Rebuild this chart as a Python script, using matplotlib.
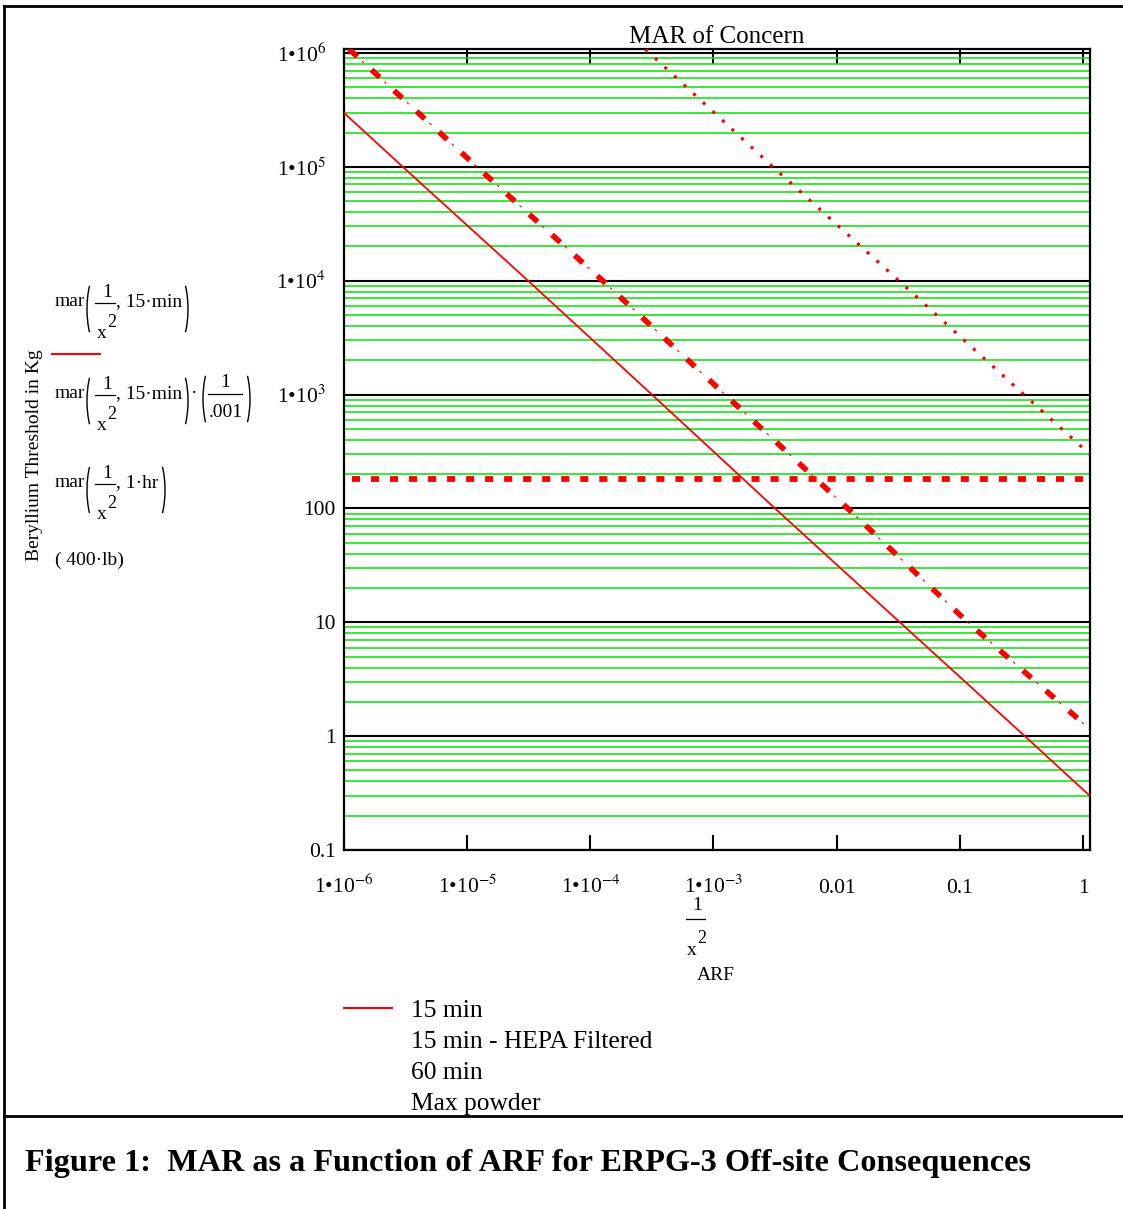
import matplotlib
matplotlib.use('Agg')
import matplotlib.pyplot as plt
from matplotlib.lines import Line2D
from matplotlib.patches import Arc
from matplotlib.ticker import FixedLocator, NullLocator, LogLocator

# values
arf_15 = [1e-6, 3.0e-6, 3.12e-5, 3.16e-4, 3.16e-3, 3.26e-2, 0.337, 1.14]
mar_15 = [2.98e5, 1e5, 1e4, 1e3, 100, 10, 1, 0.298]

arf_hepa = [2.8e-4, 3.03e-3, 0.032, 0.331, 1.14]
mar_hepa = [1.08e6, 1e5, 1e4, 1e3, 298]

arf_60 = [1.1e-6, 1.2e-5, 1.26e-4, 1.24e-3, 1.23e-2, 0.116, 1.14]
mar_60 = [1.08e6, 1e5, 1e4, 1e3, 100, 10, 1.15]

arf_powder = [1e-6, 1.14]
mar_powder = [181.4, 181.4]

x_ticks = [1e-6, 1e-5, 1e-4, 1e-3, 0.01, 0.1, 1]
x_labels = ['1\u202210$^{-6}$', '1\u202210$^{-5}$', '1\u202210$^{-4}$',
            '1\u202210$^{-3}$', '0.01', '0.1', '1']
y_ticks = [0.1, 1, 10, 100, 1e3, 1e4, 1e5, 1e6]
y_labels = ['0.1', '1', '10', '100', '1\u202210$^{3}$', '1\u202210$^{4}$',
            '1\u202210$^{5}$', '1\u202210$^{6}$']

legend_names = ['15 min', '15 min - HEPA Filtered', '60 min', 'Max powder']

plt.rcParams['font.family'] = ['Liberation Serif', 'DejaVu Serif']
plt.rcParams['mathtext.fontset'] = 'stix'
plt.rcParams['lines.scale_dashes'] = False

W, H = 1123, 1209
fig = plt.figure(figsize=(W / 100, H / 100), dpi=100)


def fx(px):
    return px / W


def fy(py):
    return 1 - py / H


def t(x, y, s, size=14, **kw):
    fig.text(fx(x), fy(y), s, ha='left', va='baseline', fontsize=size, **kw)


def hline(x0, x1, y, color='black', lw=0.9):
    fig.add_artist(Line2D([fx(x0), fx(x1)], [fy(y), fy(y)], color=color, lw=lw))


def paren(xl, y0, y1, side):
    # tall thin bracket like the Mathcad ones, drawn as an elliptic arc (pixel units)
    a = 11
    b = (y1 - y0) / 2 / 0.94
    cy = H - (y0 + y1) / 2
    if side == 'left':
        cx, th = xl + a, (110, 250)
    else:
        cx, th = xl + 7 - a, (-70, 70)
    fig.add_artist(Arc((cx / 100, cy / 100), 2 * a / 100, 2 * b / 100,
                       theta1=th[0], theta2=th[1], color='black', lw=1.0,
                       transform=fig.dpi_scale_trans))


def mar_block(B, tail, close_x):
    t(55, B, 'mar')
    paren(87, B - 31, B + 37, 'left')
    t(102, B - 9, '1')
    hline(95, 115, B - 3)
    t(97, B + 32, 'x')
    t(107, B + 21, '2', size=13)
    t(116, B, tail)
    paren(close_x, B - 31, B + 37, 'right')


ax = fig.add_axes([fx(344), fy(850), (1090 - 344) / W, (850 - 49) / H])
ax.set_xscale('log')
ax.set_yscale('log')
ax.set_xlim(1e-6, 1.14)
ax.set_ylim(0.1, 1.084e6)

red = '#ff0000'
ax.plot(arf_15, mar_15, color=red, lw=1.3, zorder=5)
ax.plot(arf_hepa, mar_hepa, color=red, lw=2.3, linestyle=(0, (2.2, 7.2)), zorder=5)
ax.plot(arf_60, mar_60, color=red, lw=4.0, linestyle=(0, (8, 14)), zorder=5)
ax.plot(arf_60, mar_60, color=red, lw=0.8, linestyle=(9.5, (2, 20)), zorder=5)
ax.plot(arf_powder, mar_powder, color=red, lw=4.2, linestyle=(8, (5.8, 7.9)), zorder=5)

# axes styling
ax.xaxis.set_major_locator(FixedLocator(x_ticks))
ax.xaxis.set_minor_locator(NullLocator())
ax.set_xticklabels(x_labels)
ax.yaxis.set_major_locator(FixedLocator(y_ticks))
ax.yaxis.set_minor_locator(LogLocator(base=10, subs=range(2, 10), numticks=30))
ax.set_yticklabels(y_labels)
ax.yaxis.set_minor_formatter(plt.NullFormatter())

ax.tick_params(axis='x', which='major', direction='in', length=11, width=1.5,
               top=True, labelsize=15.5, pad=31)
ax.tick_params(axis='y', which='both', length=0, labelsize=15.5, pad=6)
for lbl in ax.get_xticklabels():
    lbl.set_va('baseline')
for lbl in ax.get_yticklabels():
    lbl.set_va('center_baseline')
    if '$' in lbl.get_text():
        # Mathcad puts the power-of-ten labels a little further left
        lbl.set_x(-10 / 746)

ax.set_axisbelow(True)
ax.grid(which='major', axis='y', color='black', lw=1.5)
ax.grid(which='minor', axis='y', color='#00e600', lw=1.1)
ax.grid(which='both', axis='x', visible=False)
for sp in ax.spines.values():
    sp.set_linewidth(1.6)

ax.set_title('MAR of Concern', fontsize=18, pad=4)

# y axis label block
fig.text(fx(35), fy(455), 'Beryllium Threshold in Kg', rotation=90,
         ha='center', va='center', fontsize=14)
mar_block(306, ', 15\u00b7min', 181)
hline(52, 100, 354, color=red, lw=1.5)
mar_block(398, ', 15\u00b7min', 181)
t(191, 398, '\u00b7')
paren(203, 398 - 33, 398 + 35, 'left')
t(220, 387, '1')
hline(208, 242, 394)
t(209, 417, '.001')
paren(243, 398 - 33, 398 + 35, 'right')
mar_block(487, ', 1\u00b7hr', 158)
t(55, 565, '( 400\u00b7lb)')

# x axis label block
t(692, 910, '1')
hline(686, 705, 919)
t(687, 955, 'x')
t(697, 943, '2', size=13)
t(697, 980, 'ARF')

# legend
hline(344, 392, 1008, color=red, lw=1.5)
for i, name in enumerate(legend_names):
    fig.text(fx(411), fy(1011 + i * 31), name, ha='left', va='center', fontsize=18.4)

# frame and caption
fig.add_artist(Line2D([fx(4), fx(1123)], [fy(6), fy(6)], color='black', lw=2))
fig.add_artist(Line2D([fx(4), fx(4)], [fy(6), fy(1209)], color='black', lw=2))
fig.add_artist(Line2D([fx(4), fx(1123)], [fy(1116), fy(1116)], color='black', lw=2))
fig.text(fx(25), fy(1164), 'Figure 1:  MAR as a Function of ARF for ERPG-3 Off-site Consequences',
         ha='left', va='center', fontsize=23.2, fontweight='bold')

fig.savefig('out.png', dpi=100)
